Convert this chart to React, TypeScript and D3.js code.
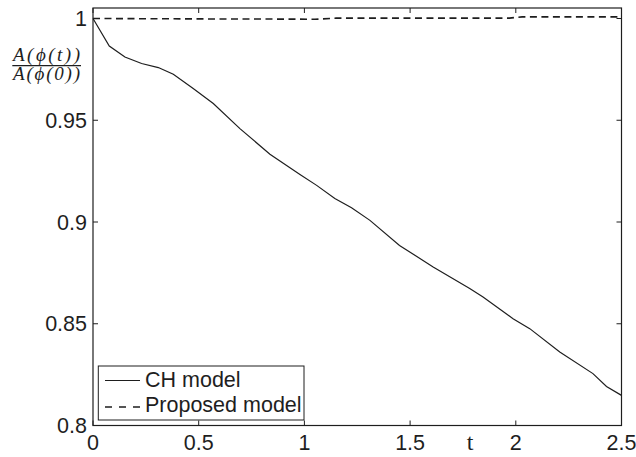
import React from "react";
import * as d3 from "d3";

const chTimes = [0, 0.077, 0.151, 0.23, 0.309, 0.38, 0.474, 0.569, 0.695, 0.837, 0.979, 1.058, 1.144, 1.223, 1.31, 1.45, 1.609, 1.782, 1.845, 1.987, 2.066, 2.208, 2.365, 2.429, 2.5];
const chValues = [1, 0.9865, 0.9811, 0.9779, 0.9759, 0.9726, 0.9656, 0.9582, 0.9459, 0.9333, 0.9234, 0.918, 0.9115, 0.907, 0.9008, 0.8885, 0.8779, 0.8673, 0.8631, 0.8525, 0.8476, 0.8361, 0.8255, 0.8192, 0.8148];
const propTimes = [0, 0.5, 0.95, 1.05, 1.15, 1.5, 1.97, 2.03, 2.5];
const propValues = [1.0, 0.9998, 0.9997, 0.9996, 1.0002, 1.0002, 1.0002, 1.0008, 1.0008];
const xTicks = [0, 0.5, 1, 1.5, 2, 2.5];
const xTickLabels = ["0", "0.5", "1", "1.5", "2", "2.5"];
const yTicks = [0.8, 0.85, 0.9, 0.95, 1];
const yTickLabels = ["0.8", "0.85", "0.9", "0.95", "1"];
const seriesNames = ["CH model", "Proposed model"];

const W = 636, H = 457;
const L = 93, R = 621.5, T = 8, B = 425.5;
const ink = "#1e1e1e";
const font = "'Liberation Sans', Arial, Helvetica, sans-serif";
const serif = "'Liberation Serif', 'Times New Roman', serif";

export default function App() {
  const x = d3.scaleLinear().domain([0, 2.5]).range([L, R]);
  const y = d3.scaleLinear().domain([0.8, 1.00516]).range([B, T]);
  const line = d3.line<[number, number]>().x(d => x(d[0])).y(d => y(d[1]));
  const chPath = line(chTimes.map((t, i) => [t, chValues[i]]));
  const propPath = line(propTimes.map((t, i) => [t, propValues[i]]));
  const tl = 5;
  return (
    <svg width={W} height={H} style={{ position: "absolute", left: 0, top: 0, background: "#fff" }}>
      <rect x={0} y={0} width={W} height={H} fill="#fff" />
      <path d={chPath!} fill="none" stroke={ink} strokeWidth={1.2} />
      <path d={propPath!} fill="none" stroke={ink} strokeWidth={1.6} strokeDasharray="7,4.5" />
      <rect x={L} y={T} width={R - L} height={B - T} fill="none" stroke={ink} strokeWidth={1.2} />
      {xTicks.map((t, i) => (
        <g key={"x" + i}>
          <line x1={x(t)} x2={x(t)} y1={B} y2={B - tl} stroke={ink} strokeWidth={1} />
          <line x1={x(t)} x2={x(t)} y1={T} y2={T + tl} stroke={ink} strokeWidth={1} />
          <text x={x(t)} y={450} textAnchor="middle" fontFamily={font} fontSize={21.5} fill={ink}>{xTickLabels[i]}</text>
        </g>
      ))}
      {yTicks.map((v, i) => (
        <g key={"y" + i}>
          <line x1={L} x2={L + tl} y1={y(v)} y2={y(v)} stroke={ink} strokeWidth={1} />
          <line x1={R} x2={R - tl} y1={y(v)} y2={y(v)} stroke={ink} strokeWidth={1} />
          <text x={87} y={y(v)} dy="0.36em" textAnchor="end" fontFamily={font} fontSize={21.5} fill={ink}>{yTickLabels[i]}</text>
        </g>
      ))}
      <text x={470} y={450} textAnchor="middle" fontFamily={serif} fontSize={24} fill={ink}>t</text>
      <text x={46.5} y={61} textAnchor="middle" fontFamily={serif} fontStyle="italic" fontSize={19} fill={ink} textLength={67} lengthAdjust="spacing">A(ϕ(t))</text>
      <line x1={12.3} x2={81} y1={65.7} y2={65.7} stroke={ink} strokeWidth={1.3} />
      <text x={46.5} y={80} textAnchor="middle" fontFamily={serif} fontStyle="italic" fontSize={19} fill={ink} textLength={67} lengthAdjust="spacing">A(ϕ(0))</text>
      <rect x={98.3} y={366} width={205.7} height={54} fill="#fff" stroke={ink} strokeWidth={1} />
      <line x1={105} x2={140} y1={380.5} y2={380.5} stroke={ink} strokeWidth={1.2} />
      <text x={145} y={387} fontFamily={font} fontSize={21.5} fill={ink}>{seriesNames[0]}</text>
      <line x1={105} x2={140} y1={407} y2={407} stroke={ink} strokeWidth={1.6} strokeDasharray="7,7" />
      <text x={145} y={412} fontFamily={font} fontSize={21.5} fill={ink}>{seriesNames[1]}</text>
    </svg>
  );
}
